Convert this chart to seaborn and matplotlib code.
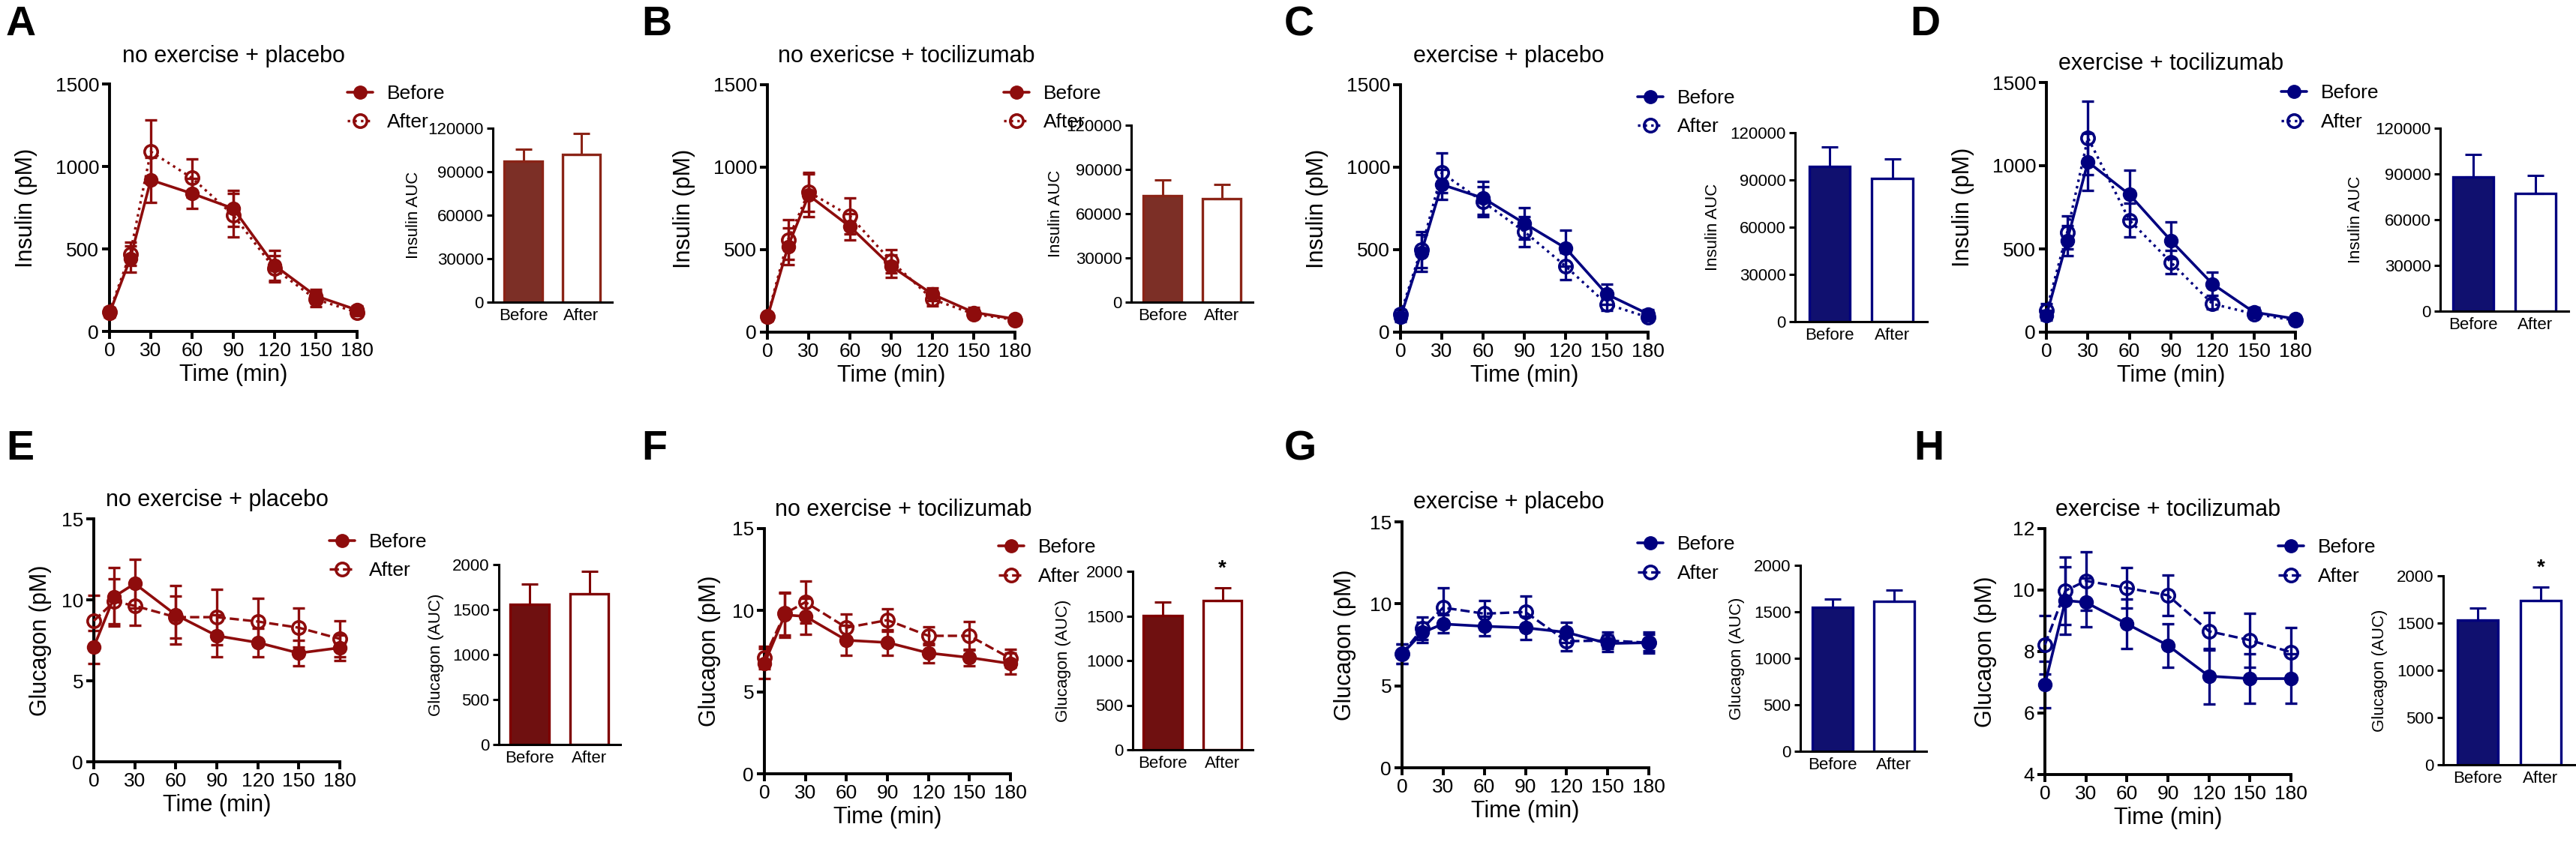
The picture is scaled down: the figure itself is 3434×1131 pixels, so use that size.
import matplotlib
matplotlib.use("Agg")
import matplotlib.pyplot as plt
import seaborn as sns
import pandas as pd
from matplotlib.lines import Line2D

# ---------------- data ----------------
times = [0, 15, 30, 60, 90, 120, 150, 180]
time_ticks = [0, 30, 60, 90, 120, 150, 180]
groups = ["Before", "After"]

titles_top = ["no exercise + placebo", "no exericse + tocilizumab",
              "exercise + placebo", "exercise + tocilizumab"]
titles_bottom = ["no exercise + placebo", "no exercise + tocilizumab",
                 "exercise + placebo", "exercise + tocilizumab"]

# Insulin (pM), mean and SEM
ins_A_before = [110, 440, 918, 836, 745, 400, 215, 130]
ins_A_before_err = [25, 80, 135, 90, 110, 90, 40, 25]
ins_A_after = [120, 470, 1090, 930, 705, 380, 195, 115]
ins_A_after_err = [25, 70, 190, 115, 130, 80, 45, 20]

ins_B_before = [90, 520, 830, 640, 400, 230, 120, 80]
ins_B_before_err = [20, 110, 130, 80, 70, 40, 30, 20]
ins_B_after = [95, 560, 850, 705, 430, 200, 110, 75]
ins_B_after_err = [20, 120, 120, 110, 70, 40, 25, 20]

ins_C_before = [90, 480, 895, 813, 660, 510, 230, 110]
ins_C_before_err = [25, 110, 90, 100, 95, 110, 60, 25]
ins_C_after = [110, 500, 966, 790, 610, 400, 170, 90]
ins_C_after_err = [25, 110, 120, 90, 90, 80, 40, 20]

ins_D_before = [100, 550, 1023, 827, 550, 290, 120, 80]
ins_D_before_err = [30, 90, 170, 145, 110, 70, 30, 20]
ins_D_after = [130, 600, 1168, 673, 420, 170, 110, 70]
ins_D_after_err = [40, 100, 220, 100, 70, 30, 25, 15]

# Insulin AUC
ins_auc_A = [97000, 102000]
ins_auc_A_err = [8500, 14400]
ins_auc_B = [72200, 70200]
ins_auc_B_err = [10700, 9600]
ins_auc_C = [98600, 91000]
ins_auc_C_err = [12400, 12400]
ins_auc_D = [88000, 77200]
ins_auc_D_err = [14800, 11800]

# Glucagon (pM)
glu_E_before = [7.08, 10.2, 11.0, 9.07, 7.78, 7.36, 6.71, 7.04]
glu_E_before_err = [1.0, 1.8, 1.5, 1.8, 1.3, 0.9, 0.8, 0.8]
glu_E_after = [8.7, 9.9, 9.63, 8.93, 8.93, 8.66, 8.28, 7.59]
glu_E_after_err = [1.6, 1.4, 1.2, 1.3, 1.7, 1.45, 1.2, 1.1]

glu_F_before = [6.74, 9.72, 9.63, 8.17, 8.03, 7.39, 7.11, 6.74]
glu_F_before_err = [0.9, 1.35, 1.1, 0.9, 0.8, 0.6, 0.5, 0.65]
glu_F_after = [7.11, 9.8, 10.5, 8.94, 9.4, 8.44, 8.44, 7.06]
glu_F_after_err = [0.7, 1.3, 1.3, 0.85, 0.7, 0.55, 0.85, 0.55]

glu_G_before = [6.94, 8.26, 8.77, 8.63, 8.54, 8.26, 7.58, 7.63]
glu_G_before_err = [0.6, 0.6, 0.55, 0.6, 0.7, 0.6, 0.5, 0.65]
glu_G_after = [6.95, 8.5, 9.77, 9.4, 9.5, 7.72, 7.76, 7.63]
glu_G_after_err = [0.6, 0.7, 1.2, 0.8, 0.95, 0.6, 0.5, 0.5]

glu_H_before = [6.93, 9.66, 9.6, 8.9, 8.2, 7.2, 7.12, 7.12]
glu_H_before_err = [0.75, 1.1, 0.8, 0.8, 0.7, 0.9, 0.8, 0.8]
glu_H_after = [8.22, 9.98, 10.3, 10.07, 9.83, 8.66, 8.37, 7.98]
glu_H_after_err = [0.95, 1.1, 0.95, 0.65, 0.65, 0.6, 0.87, 0.8]

# Glucagon AUC
glu_auc_E = [1558, 1675]
glu_auc_E_err = [225, 250]
glu_auc_F = [1504, 1672]
glu_auc_F_err = [150, 143]
glu_auc_G = [1548, 1613]
glu_auc_G_err = [90, 120]
glu_auc_H = [1532, 1738]
glu_auc_H_err = [127, 143]

ins_yticks = [0, 500, 1000, 1500]
glu_yticks = [0, 5, 10, 15]
glu_H_yticks = [4, 6, 8, 10, 12]
ins_auc_yticks = [0, 30000, 60000, 90000, 120000]
glu_auc_yticks = [0, 500, 1000, 1500, 2000]

# ---------------- style ----------------
sns.set_theme(style="ticks")
plt.rcParams["font.family"] = ["Liberation Sans", "DejaVu Sans"]
plt.rcParams["text.color"] = "black"
plt.rcParams["axes.labelcolor"] = "black"
plt.rcParams["xtick.color"] = "black"
plt.rcParams["ytick.color"] = "black"

RED = "#8E0C0C"
RED_BAR_TOP = "#8B2417"
RED_BAR_BOT = "#7F0000"
BLUE = "#00007F"

W, H = 3434, 1131
fig = plt.figure(figsize=(W / 100, H / 100), dpi=100)


def ax_px(l, t, r, b):
    return fig.add_axes([l / W, 1 - b / H, (r - l) / W, (b - t) / H])


def style_axes(ax, lw, tick_len, labelsize):
    for s in ["top", "right"]:
        ax.spines[s].set_visible(False)
    for s in ["left", "bottom"]:
        ax.spines[s].set_linewidth(lw)
        ax.spines[s].set_color("black")
    ax.tick_params(axis="both", length=tick_len, width=lw, color="black",
                   labelsize=labelsize, labelcolor="black", pad=3)
    ax.set_facecolor("none")
    ax.grid(False)


def no_clip(container):
    for art in container.get_children():
        art.set_clip_on(False)


def line_panel(box, before, before_err, after, after_err, color, after_ls,
               ylim, yticks, ylabel, ylab_gap):
    l, t, r, b = box
    ax = ax_px(l, t, r, b)
    eb1 = ax.errorbar(times, before, yerr=before_err, fmt="none", ecolor=color,
                      elinewidth=2.4, capsize=5.5, capthick=2.4, zorder=2)
    eb2 = ax.errorbar(times, after, yerr=after_err, fmt="none", ecolor=color,
                      elinewidth=2.4, capsize=5.5, capthick=2.4, zorder=2)
    no_clip(eb1)
    no_clip(eb2)
    sns.lineplot(x=times, y=before, ax=ax, color=color, lw=2.6, marker="o",
                 markersize=12.5, markerfacecolor=color, markeredgecolor=color,
                 markeredgewidth=1.5, errorbar=None, zorder=3, clip_on=False)
    sns.lineplot(x=times, y=after, ax=ax, color=color, lw=2.4, linestyle=after_ls,
                 marker="o", markersize=12.5, markerfacecolor="none",
                 markeredgecolor=color, markeredgewidth=2.6, errorbar=None,
                 zorder=4, clip_on=False)
    ax.set_xlim(0, 180)
    ax.set_xticks(time_ticks)
    ax.set_ylim(*ylim)
    ax.set_yticks(yticks)
    style_axes(ax, 2.8, 7, 19)
    ax.set_xlabel("Time (min)", fontsize=22, labelpad=4)
    ax.set_ylabel(ylabel, fontsize=22)
    ax.yaxis.set_label_coords(-ylab_gap / (r - l), 0.5)
    return ax


def bar_panel(spine, top, bot, c0, c1, vals, errs, fill, edge, ylim, yticks,
              ylabel, ylab_gap, star=False):
    off = (c0 - spine) / (c1 - c0)
    right = c1 + (c0 - spine)
    ax = ax_px(spine, top, right, bot)
    df = pd.DataFrame({"cond": groups, "auc": vals})
    sns.barplot(data=df, x="cond", y="auc", hue="cond",
                palette={"Before": fill, "After": "white"}, edgecolor=edge,
                linewidth=2.4, width=0.65, errorbar=None, legend=False, ax=ax)
    eb = ax.errorbar([0, 1], vals, yerr=[[0, 0], errs], fmt="none", ecolor=edge,
                     elinewidth=2.2, capsize=8, capthick=2.2, zorder=5)
    no_clip(eb)
    ax.set_xlim(-off, 1 + off)
    ax.set_ylim(*ylim)
    ax.set_yticks(yticks)
    style_axes(ax, 2.2, 6, 16)
    ax.tick_params(axis="x", length=0, pad=6)
    ax.set_xlabel("")
    ax.set_ylabel(ylabel, fontsize=16)
    w = right - spine
    ax.yaxis.set_label_coords(-ylab_gap / w, 0.5)
    if star:
        top_val = vals[1] + errs[1]
        span = ylim[1] - ylim[0]
        ax.text(1, top_val + 0.05 * span, "*", ha="center", va="bottom",
                fontsize=20, fontweight="bold", clip_on=False)
    return ax


def legend_at(x, y, color, after_ls):
    hb = Line2D([], [], color=color, lw=2.6, marker="o", markersize=12.5,
                markerfacecolor=color, markeredgecolor=color)
    ha = Line2D([], [], color=color, lw=2.4, linestyle=after_ls, marker="o",
                markersize=12.5, markerfacecolor="none", markeredgecolor=color,
                markeredgewidth=2.6)
    fig.legend([hb, ha], groups, loc="center left",
               bbox_to_anchor=(x / W, 1 - y / H), frameon=False, fontsize=19,
               handlelength=1.3, handletextpad=0.7, labelspacing=0.55,
               borderpad=0, borderaxespad=0)


def title_at(x, y, s):
    fig.text(x / W, 1 - y / H, s, ha="center", va="center", fontsize=22)


def letter_at(x, y, s):
    fig.text(x / W, 1 - y / H, s, ha="left", va="top", fontsize=40,
             fontweight="bold")


# ---------------- top row: insulin ----------------
top_line_boxes = [(146, 112, 476, 442), (1023, 113, 1353, 443),
                  (1867, 113, 2197, 443), (2728, 110, 3060, 443)]
top_line_data = [
    (ins_A_before, ins_A_before_err, ins_A_after, ins_A_after_err, RED),
    (ins_B_before, ins_B_before_err, ins_B_after, ins_B_after_err, RED),
    (ins_C_before, ins_C_before_err, ins_C_after, ins_C_after_err, BLUE),
    (ins_D_before, ins_D_before_err, ins_D_after, ins_D_after_err, BLUE),
]
top_bar_geo = [(657, 171, 403, 697.5, 775), (1508, 167, 403, 1549.5, 1628.5),
               (2393, 177, 429, 2439, 2522.5), (3253, 171, 415, 3297, 3380)]
top_bar_data = [(ins_auc_A, ins_auc_A_err, RED_BAR_TOP, RED_BAR_TOP),
                (ins_auc_B, ins_auc_B_err, RED_BAR_TOP, RED_BAR_TOP),
                (ins_auc_C, ins_auc_C_err, BLUE, BLUE),
                (ins_auc_D, ins_auc_D_err, BLUE, BLUE)]
top_bar_gaps = [95, 90, 99, 102]
top_legends = [(463, 144), (1338, 144), (2183, 150), (3041, 143.5)]
top_titles = [(311, 75), (1208, 75), (2011, 75), (2894, 85)]
top_letters = [("A", 8, 7), ("B", 855, 7), ("C", 1712, 7), ("D", 2546, 7)]

for i in range(4):
    bef, bef_e, aft, aft_e, col = top_line_data[i]
    line_panel(top_line_boxes[i], bef, bef_e, aft, aft_e, col, ":",
               (0, 1500), ins_yticks, "Insulin (pM)", 96)
    sp, tp, bt, c0, c1 = top_bar_geo[i]
    vals, errs, fill, edge = top_bar_data[i]
    bar_panel(sp, tp, bt, c0, c1, vals, errs, fill, edge, (0, 120000),
              ins_auc_yticks, "Insulin AUC", top_bar_gaps[i])
    legend_at(*top_legends[i], col, ":")
    title_at(*top_titles[i], titles_top[i])
    letter_at(top_letters[i][1], top_letters[i][2], top_letters[i][0])

# ---------------- bottom row: glucagon ----------------
bot_line_boxes = [(125, 692, 453, 1016), (1019, 705, 1347, 1032),
                  (1869, 696, 2198, 1024), (2726, 705, 3054, 1033)]
bot_line_data = [
    (glu_E_before, glu_E_before_err, glu_E_after, glu_E_after_err, RED),
    (glu_F_before, glu_F_before_err, glu_F_after, glu_F_after_err, RED),
    (glu_G_before, glu_G_before_err, glu_G_after, glu_G_after_err, BLUE),
    (glu_H_before, glu_H_before_err, glu_H_after, glu_H_after_err, BLUE),
]
bot_ylims = [(0, 15), (0, 15), (0, 15), (4, 12)]
bot_yticks = [glu_yticks, glu_yticks, glu_yticks, glu_H_yticks]
bot_line_gaps = [56, 58, 61, 64]
bot_bar_geo = [(665, 753, 993, 706, 785.5), (1510, 762, 1000, 1550, 1629.5),
               (2400, 754, 1002, 2443, 2525), (3257, 768, 1020, 3303, 3387)]
bot_bar_data = [(glu_auc_E, glu_auc_E_err, RED_BAR_BOT, RED_BAR_BOT, False),
                (glu_auc_F, glu_auc_F_err, RED_BAR_BOT, RED_BAR_BOT, True),
                (glu_auc_G, glu_auc_G_err, BLUE, BLUE, False),
                (glu_auc_H, glu_auc_H_err, BLUE, BLUE, True)]
bot_bar_gaps = [73, 82, 74, 74]
bot_legends = [(439, 742), (1331, 749.5), (2183, 745.5), (3037, 749.5)]
bot_titles = [(289.5, 667), (1204.5, 680), (2011.5, 670), (2890, 680)]
bot_letters = [("E", 8, 573), ("F", 855, 573), ("G", 1712, 573), ("H", 2551, 573)]

for i in range(4):
    bef, bef_e, aft, aft_e, col = bot_line_data[i]
    line_panel(bot_line_boxes[i], bef, bef_e, aft, aft_e, col, "--",
               bot_ylims[i], bot_yticks[i], "Glucagon (pM)", bot_line_gaps[i])
    sp, tp, bt, c0, c1 = bot_bar_geo[i]
    vals, errs, fill, edge, star = bot_bar_data[i]
    bar_panel(sp, tp, bt, c0, c1, vals, errs, fill, edge, (0, 2000),
              glu_auc_yticks, "Glucagon (AUC)", bot_bar_gaps[i], star=star)
    legend_at(*bot_legends[i], col, "--")
    title_at(*bot_titles[i], titles_bottom[i])
    letter_at(bot_letters[i][1], bot_letters[i][2], bot_letters[i][0])

fig.savefig("out.png", dpi=100, facecolor="white")
